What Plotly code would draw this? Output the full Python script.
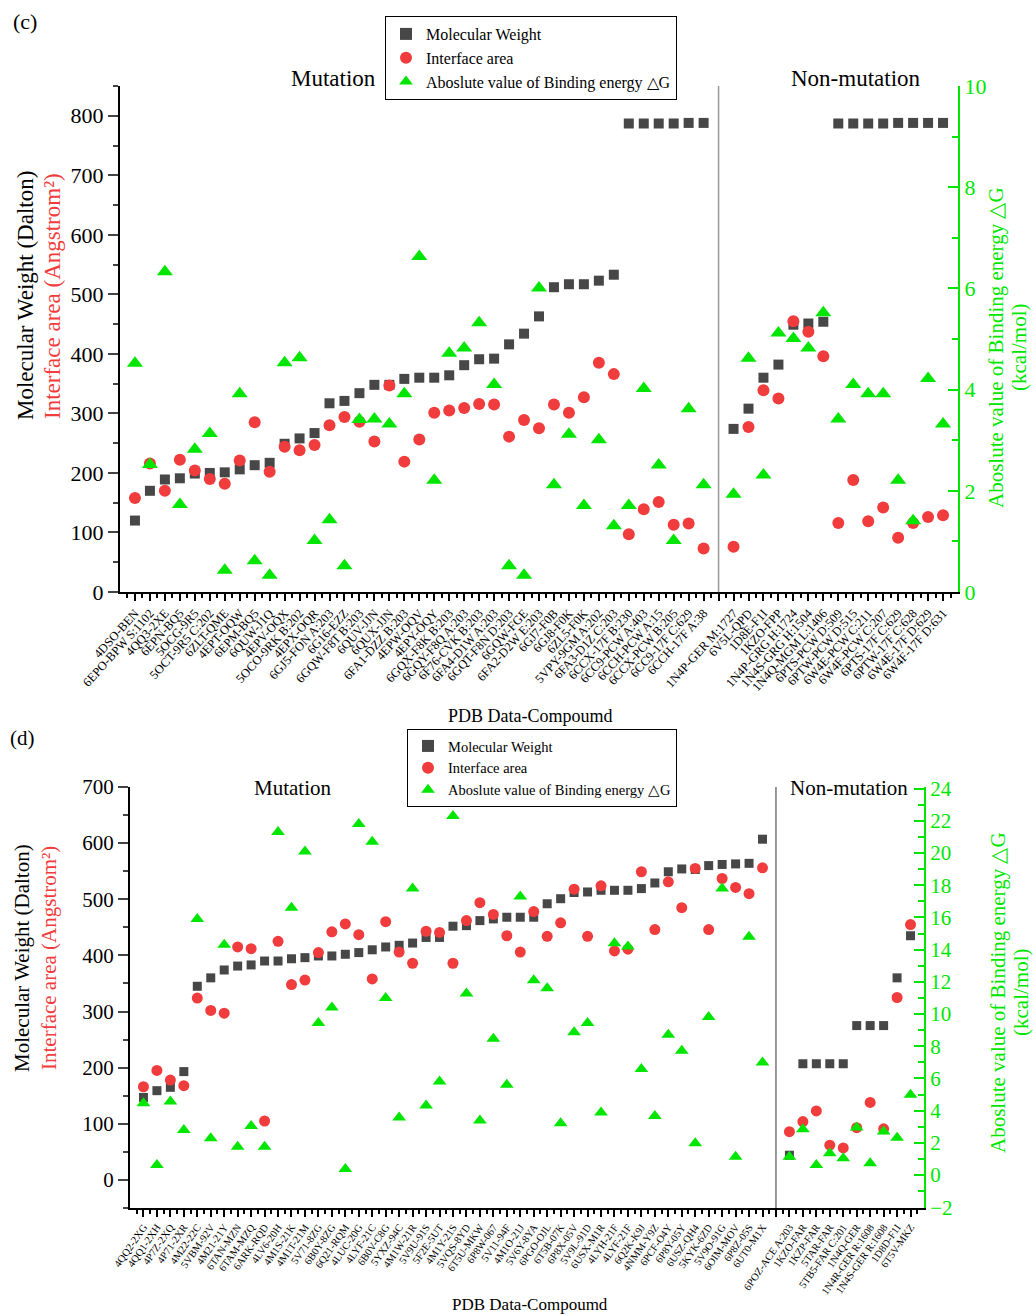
import plotly.graph_objects as go

W, H = 1033, 1314
FONT = "Liberation Serif, Times New Roman, serif"
GREEN = "#00e600"
RED = "#f03c3c"
GREY = "#474747"

# ---------------- panel (c) data ----------------
c_labels = ["4DSO-BEN", "6EPO-BPW S:1102", "4QQ3-2XE", "6EPN-BQ5", "5OCG-9R5", "5OCT-9R5 C:202",
            "6ZLT-QME", "4EPT-OQW", "6EPM-BQ5", "6QUW-J1Q", "4EPV-OQX", "5OCO-9RK B:202",
            "4EPX-OQR", "6GJ5-FON A:203", "6G16-EZZ", "6GQW-F8T B:203", "6QUV-JJN", "6QUX-JJN",
            "6FA1-DZZ B:203", "4EPW-OQV", "4EPY-OQY", "6GQX-F8K B:203", "6GQY-F8Q A:203",
            "6F76-CVK B:203", "6FA4-D1W A:203", "6GQT-F8N D:203", "6GQW-FGE", "6FA2-D2W E:203",
            "6GJ7-F0B", "6GJ8-F0K", "6ZL5-F0K", "5VPY-9GM A:202", "6FA3-D1Z C:203",
            "6CCX-17F B:230", "6CC9-PCW A:403", "6CCH-PCW A:15", "6CCX-PCW B:205",
            "6CC9-17F C:629", "6CCH-17F A:38", "",
            "1N4P-GER M:1727", "6V5L-QPD", "1D8E-F1I", "1KZO-FPP", "1N4P-GRG H:1724",
            "1N4S-GRG H:1504", "1N4Q-MGM L:1406", "6PTS-PCW D:509", "6PTW-PCW D:515",
            "6W4E-PCW C:211", "6W4F-PCW C:207", "6PTS-17F C:629", "6PTW-17F C:628",
            "6W4E-17F D:629", "6W4F-17F D:631"]
c_mw = [120, 170, 189, 191, 199, 200, 201, 206, 213, 217, 249, 258, 267, 317, 321, 334, 348, 348,
        358, 360, 360, 364, 381, 391, 392, 416, 434, 463, 512, 517, 517, 523, 533, 787, 787, 787,
        787, 788, 788, None,
        274, 308, 360, 382, 449, 451, 454, 787, 787, 787, 787, 788, 788, 788, 788]
c_area = [158, 216, 170, 222, 204, 190, 182, 221, 285, 202, 244, 238, 247, 280, 294, 286, 253, 347,
          219, 256, 301, 305, 309, 316, 315, 261, 289, 275, 315, 301, 327, 385, 366, 97, 139, 151,
          113, 115, 73, None,
          76, 277, 339, 325, 455, 437, 396, 116, 188, 119, 142, 91, 116, 126, 129]
c_dg = [4.52, 2.52, 6.33, 1.73, 2.82, 3.13, 0.43, 3.92, 0.62, 0.33, 4.53, 4.63, 1.02, 1.43, 0.52,
        3.41, 3.42, 3.32, 3.92, 6.63, 2.21, 4.72, 4.82, 5.32, 4.10, 0.52, 0.33, 6.01, 2.12, 3.12,
        1.71, 3.01, 1.31, 1.71, 4.02, 2.51, 1.02, 3.62, 2.12, None,
        1.93, 4.62, 2.31, 5.12, 5.01, 4.82, 5.52, 3.42, 4.10, 3.92, 3.92, 2.21, 1.41, 4.22, 3.32]

# ---------------- panel (d) data ----------------
d_labels = ["4QQ2-2XG", "4QQ1-2XH", "4P7Z-2XQ", "4P71-2XR", "4M22-22C", "5VBM-92V", "4M21-21Y",
            "6TAN-MZN", "6TAM-MZQ", "6ARK-RQD", "4LV6-20H", "4M1S-21K", "4M1T-21M", "5V71-8ZG",
            "6B0Y-8ZG", "6Q21-RQM", "4LUC-20G", "4LYF-21C", "6B0V-C8G", "5YXZ-94C", "4M1W-21R",
            "5V9U-91S", "5F2E-5UT", "4M1Y-21S", "5VQS-8YD", "6T5U-MKW", "6P8W-067", "5V11-94F",
            "4M1O-21J", "5V6Y-8YA", "6PGO-OJL", "6T5B-07K", "6P8X-05V", "5V9L-91D", "6USX-M1R",
            "4LYH-21F", "4LYF-21F", "6Q2K-K9J", "4NMM-Y9Z", "6PCF-O4Y", "6P8Y-05Y", "6USZ-QH4",
            "5KYK-6ZD", "5V9O-91G", "6OIM-MOV", "6P8Z-05S", "6UT0-M1X", "",
            "6POZ-ACE A:203", "1KZO-FAR", "1KZP-FAR", "5TAR-FAR", "5TB5-FAR C:201", "1N4Q-GER",
            "1N4R-GER R:1608", "1N4S-GER R:1608", "1D8D-F1I", "6T5V-MKZ"]
d_mw = [147, 159, 165, 193, 345, 360, 374, 381, 383, 390, 390, 394, 396, 399, 399, 402, 405, 410,
        415, 418, 422, 432, 432, 452, 453, 462, 465, 468, 468, 468, 492, 501, 512, 513, 516, 516,
        516, 519, 529, 549, 554, 553, 560, 562, 563, 564, 607, None,
        44, 207, 207, 207, 207, 275, 275, 275, 360, 435]
d_area = [166, 195, 178, 168, 324, 302, 297, 415, 412, 105, 425, 348, 356, 405, 442, 456, 437, 358,
          460, 406, 386, 443, 441, 386, 462, 494, 473, 435, 406, 478, 434, 458, 518, 434, 524, 408,
          411, 549, 446, 531, 485, 555, 446, 537, 521, 510, 556, None,
          86, 104, 123, 62, 57, 93, 138, 91, 325, 455]
d_dg = [4.46, 0.62, 4.56, 2.80, 15.9, 2.28, 14.3, 1.76, 3.05, 1.76, 21.3, 16.6, 20.1, 9.44, 10.4,
        0.37, 21.8, 20.7, 11.0, 3.57, 17.8, 4.32, 5.81, 22.3, 11.27, 3.38, 8.46, 5.60, 17.3, 12.1,
        11.6, 3.22, 8.86, 9.44, 3.88, 14.4, 14.2, 6.58, 3.67, 8.71, 7.72, 1.97, 9.81, 17.8, 1.14,
        14.8, 6.99, None,
        1.14, 2.84, 0.62, 1.35, 1.04, 2.95, 0.73, 2.70, 2.32, 4.98]

c_x = list(range(1, len(c_labels) + 1))
d_x = list(range(1, len(d_labels) + 1))


def px(x):
    return x / W


def py(y):
    return 1 - y / H


fig = go.Figure()

# panel (c)
fig.add_trace(go.Scatter(x=c_x, y=c_mw, mode="markers", name="Molecular Weight",
                         marker=dict(symbol="square", size=10, color=GREY),
                         xaxis="x", yaxis="y", legend="legend"))
fig.add_trace(go.Scatter(x=c_x, y=c_area, mode="markers", name="Interface area",
                         marker=dict(symbol="circle", size=12, color=RED),
                         xaxis="x", yaxis="y", legend="legend"))
fig.add_trace(go.Scatter(x=c_x, y=c_dg, mode="markers", name="Aboslute value of Binding energy △G",
                         marker=dict(symbol="triangle-up", size=14, color=GREEN),
                         xaxis="x", yaxis="y2", legend="legend"))
# panel (d)
fig.add_trace(go.Scatter(x=d_x, y=d_mw, mode="markers", name="Molecular Weight",
                         marker=dict(symbol="square", size=9, color=GREY),
                         xaxis="x2", yaxis="y3", legend="legend2"))
fig.add_trace(go.Scatter(x=d_x, y=d_area, mode="markers", name="Interface area",
                         marker=dict(symbol="circle", size=11, color=RED),
                         xaxis="x2", yaxis="y3", legend="legend2"))
fig.add_trace(go.Scatter(x=d_x, y=d_dg, mode="markers", name="Aboslute value of Binding energy △G",
                         marker=dict(symbol="triangle-up", size=12, color=GREEN),
                         xaxis="x2", yaxis="y4", legend="legend2"))

xcommon = dict(showline=True, linecolor="black", linewidth=2, ticks="outside", ticklen=7,
               tickwidth=1.5, tickcolor="black", showgrid=False, zeroline=False,
               tickmode="array", automargin=False,
               minor=dict(ticks="outside", ticklen=4, tickwidth=1.5, tickcolor="black",
                          tickmode="linear", tick0=0.5, dtick=1))

fig.update_layout(
    width=W, height=H, margin=dict(l=0, r=0, t=0, b=0, autoexpand=False),
    paper_bgcolor="white", plot_bgcolor="white",
    font=dict(family=FONT, color="black"),
    xaxis=dict(domain=[px(120), px(958)], anchor="y", range=[0, len(c_labels) + 1],
               tickvals=c_x, ticktext=c_labels, tickfont=dict(size=12.5), tickangle=-48,
               **xcommon),
    yaxis=dict(domain=[py(592), py(86)], anchor="x", range=[0, 850], automargin=False,
               tickvals=list(range(0, 801, 100)), tickfont=dict(size=22),
               showline=True, linecolor="black", linewidth=2, ticks="outside", ticklen=10,
               tickwidth=1.5, showgrid=False, zeroline=False,
               minor=dict(ticks="outside", ticklen=5, tickwidth=1.5, dtick=50, tick0=0)),
    yaxis2=dict(overlaying="y", side="right", anchor="x", range=[0, 10], dtick=2,
                automargin=False,
                tickfont=dict(size=22, color=GREEN), showline=True, linecolor=GREEN,
                linewidth=2, ticks="inside", ticklen=10, tickwidth=1.5, tickcolor=GREEN,
                showgrid=False, zeroline=False,
                minor=dict(ticks="inside", ticklen=6, tickwidth=1.5, dtick=1, tick0=0,
                           tickcolor=GREEN)),
    xaxis2=dict(domain=[px(130), px(924)], anchor="y3", range=[0, len(d_labels) + 1],
                tickvals=d_x, ticktext=d_labels, tickfont=dict(size=10.5), tickangle=-55,
                **xcommon),
    yaxis3=dict(domain=[py(1208), py(787)], anchor="x2", range=[-50, 700], automargin=False,
                tickvals=list(range(0, 701, 100)), tickfont=dict(size=21),
                showline=True, linecolor="black", linewidth=2, ticks="outside", ticklen=10,
                tickwidth=1.5, showgrid=False, zeroline=False,
                minor=dict(ticks="outside", ticklen=5, tickwidth=1.5, dtick=50, tick0=0)),
    yaxis4=dict(overlaying="y3", side="right", anchor="x2", range=[-2.05, 24.1],
                automargin=False,
                tickvals=list(range(-2, 25, 2)), tickfont=dict(size=21, color=GREEN),
                showline=True, linecolor=GREEN, linewidth=2, ticks="inside", ticklen=10,
                tickwidth=1.5, tickcolor=GREEN, showgrid=False, zeroline=False,
                minor=dict(ticks="inside", ticklen=6, tickwidth=1.5, dtick=1, tick0=0,
                           tickcolor=GREEN)),
    legend=dict(x=px(385), y=py(16), xanchor="left", yanchor="top", bgcolor="white",
                bordercolor="black", borderwidth=1, font=dict(size=16, family=FONT),
                tracegroupgap=0, itemsizing="constant"),
    legend2=dict(x=px(407), y=py(729), xanchor="left", yanchor="top", bgcolor="white",
                 bordercolor="black", borderwidth=1, font=dict(size=14.5, family=FONT),
                 tracegroupgap=0, itemsizing="constant"),
    showlegend=True,
)

# divider lines
fig.add_shape(type="line", xref="x", yref="y domain", x0=40, x1=40, y0=0, y1=1,
              line=dict(color="#9a9a9a", width=1.5))
fig.add_shape(type="line", xref="x2", yref="y3 domain", x0=48, x1=48, y0=0, y1=1,
              line=dict(color="#555555", width=1.2))


def ann(text, x, y, size, color="black", angle=0, xanchor="center", yanchor="middle"):
    fig.add_annotation(text=text, x=px(x), y=py(y), xref="paper", yref="paper",
                       showarrow=False, textangle=angle, xanchor=xanchor, yanchor=yanchor,
                       font=dict(size=size, color=color, family=FONT))


# panel (c) texts
ann("(c)", 25, 22, 22)
ann("Mutation", 333, 79, 23)
ann("Non-mutation", 856, 79, 23)
ann("Molecular Weight (Dalton)", 25, 296, 23, angle=-90)
ann("Interface area (Angstrom²)", 52, 296, 23, color=RED, angle=-90)
ann("Aboslute value of Binding energy △G", 996, 348, 21, color=GREEN, angle=-90)
ann("(kcal/mol)", 1019, 348, 21, color=GREEN, angle=-90)
ann("PDB Data-Compoumd", 530, 716, 18)

# panel (d) texts
ann("(d)", 22, 738, 21)
ann("Mutation", 292, 788, 21)
ann("Non-mutation", 849, 788, 21)
ann("Molecular Weight (Dalton)", 22, 958, 21, angle=-90)
ann("Interface area (Angstrom²)", 49, 958, 21, color=RED, angle=-90)
ann("Aboslute value of Binding energy △G", 998, 993, 21, color=GREEN, angle=-90)
ann("(kcal/mol)", 1021, 993, 21, color=GREEN, angle=-90)
ann("PDB Data-Compoumd", 530, 1304, 17)

fig.write_html("out.html", config={"displayModeBar": False},
               post_script="document.body.style.margin='0';"
                           "document.documentElement.style.overflow='hidden';")
